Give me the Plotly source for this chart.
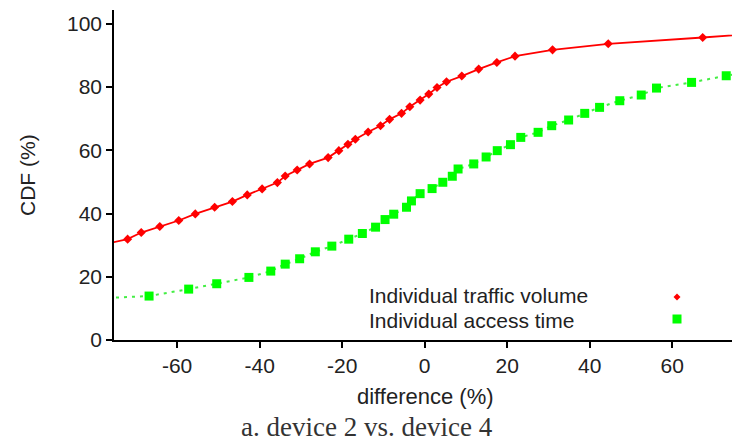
import plotly.graph_objects as go

# ---- data ----
traffic_x = [-79, -72.0, -68.7, -64.2, -59.6, -55.6, -50.9, -46.6, -43.0, -39.4, -35.7,
             -33.8, -30.9, -27.9, -23.4, -20.8, -18.6, -16.8, -13.7, -10.7, -8.5,
             -5.6, -3.6, -1.1, 1.0, 3.0, 5.3, 9.0, 13.1, 17.5, 21.9, 31.0, 44.5, 67.4, 88]
traffic_y = [29.9, 31.9, 34.0, 35.9, 37.8, 39.9, 42.0, 43.8, 45.9, 47.8, 49.8,
             51.9, 53.8, 55.7, 57.7, 59.9, 61.9, 63.5, 65.8, 67.8, 69.8,
             71.7, 73.8, 75.9, 77.8, 79.9, 81.7, 83.5, 85.7, 87.8, 89.8, 91.8, 93.7, 95.7, 97.7]

access_x = [-100, -66.8, -57.2, -50.4, -42.6, -37.3, -33.8, -30.3, -26.5, -22.5, -18.4,
            -15.1, -11.9, -9.6, -7.5, -4.4, -3.2, -1.1, 1.8, 4.4, 6.7,
            8.1, 11.9, 14.9, 17.6, 20.8, 23.3, 27.5, 30.8, 34.9, 38.8,
            42.4, 47.3, 52.5, 56.2, 64.7, 73.1, 82]
access_y = [11.9, 13.9, 16.1, 17.8, 19.8, 21.8, 24.0, 25.7, 27.9, 29.7, 31.9,
            33.7, 35.7, 38.1, 39.8, 42.0, 44.0, 46.3, 47.9, 49.9, 51.8,
            54.1, 55.7, 57.9, 59.9, 61.8, 64.1, 65.7, 67.8, 69.6, 71.7,
            73.6, 75.7, 77.5, 79.7, 81.5, 83.6, 85.6]

x_ticks = [-60, -40, -20, 0, 20, 40, 60]
x_tick_labels = ["-60", "-40", "-20", "0", "20", "40", "60"]
y_ticks = [0, 20, 40, 60, 80, 100]
y_tick_labels = ["0", "20", "40", "60", "80", "100"]
series_names = ["Individual traffic volume", "Individual access time"]

# ---- geometry helpers (pixel -> paper) ----
W, H = 732, 443
L, R, T, B = 114, 0, 10, 103
PW, PH = W - L - R, H - T - B


def px(x):
    return (x - L) / PW


def py(y):
    return (H - B - y) / PH


FONT = "Liberation Sans, Arial, Helvetica, sans-serif"
TXT = "#222222"

fig = go.Figure()
fig.add_trace(go.Scatter(
    x=access_x, y=access_y, mode="lines+markers", name=series_names[1],
    line=dict(color="#44ee44", width=2, dash="3px,5px"),
    marker=dict(symbol="square", size=9, color="#00ff00"),
    showlegend=False, cliponaxis=True))
fig.add_trace(go.Scatter(
    x=traffic_x, y=traffic_y, mode="lines+markers", name=series_names[0],
    line=dict(color="#ff0000", width=1.8),
    marker=dict(symbol="diamond", size=7, color="#ff0000"),
    showlegend=False, cliponaxis=True))

axis_common = dict(showgrid=False, zeroline=False, showline=True, linecolor="#000000",
                   linewidth=1.6, ticks="outside", ticklen=6, tickwidth=1.5,
                   tickcolor="#000000", tickfont=dict(family=FONT, size=21, color=TXT))
fig.update_xaxes(range=[-75.3, 74.5], tickvals=x_ticks, ticktext=x_tick_labels, **axis_common)
fig.update_yaxes(range=[0, 104.4], tickvals=y_ticks, ticktext=y_tick_labels, **axis_common)

annotations = [
    dict(text="CDF (%)", x=px(27), y=0.5, textangle=-90, font=dict(size=21)),
    dict(text="difference (%)", x=px(425), y=py(396), font=dict(size=22)),
    dict(text="a. device 2 vs. device 4", x=px(367), y=py(444), yanchor="bottom",
         font=dict(family="Liberation Serif, Times New Roman, serif", size=27, color="#333333")),
    dict(text=series_names[0], x=px(368), y=py(307.5), xanchor="left", yanchor="bottom",
         borderpad=0, font=dict(size=21)),
    dict(text=series_names[1], x=px(368), y=py(307.5), xanchor="left", yanchor="top",
         borderpad=0, font=dict(size=21)),
]
for a in annotations:
    a.setdefault("xanchor", "center")
    a.setdefault("yanchor", "middle")
    a.update(xref="paper", yref="paper", showarrow=False)
    f = a["font"]
    f.setdefault("family", FONT)
    f.setdefault("color", TXT)

shapes = [
    dict(type="path", xref="paper", yref="paper", xsizemode="pixel", ysizemode="pixel",
         xanchor=px(677), yanchor=py(297), path="M -3.5 0 L 0 3.5 L 3.5 0 L 0 -3.5 Z",
         fillcolor="#ff0000", line=dict(width=0)),
    dict(type="rect", xref="paper", yref="paper", xsizemode="pixel", ysizemode="pixel",
         xanchor=px(677), yanchor=py(319), x0=-4.5, x1=4.5, y0=-4.5, y1=4.5,
         fillcolor="#00ff00", line=dict(width=0)),
]

fig.update_layout(
    width=W, height=H, autosize=False,
    margin=dict(l=L, r=R, t=T, b=B, pad=0),
    paper_bgcolor="white", plot_bgcolor="white",
    font=dict(family=FONT, size=21, color=TXT),
    annotations=annotations, shapes=shapes,
)

fig.write_html("out.html")
